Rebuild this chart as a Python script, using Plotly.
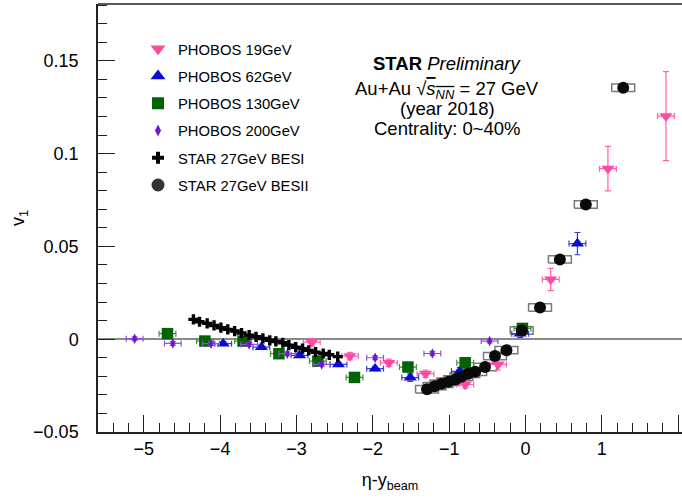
import plotly.graph_objects as go

# PHOBOS v1 vs eta - y_beam, Au+Au
pho19_x = [-2.80, -2.30, -1.79, -1.31, -0.79, -0.36, 0.33, 1.08, 1.84]
pho19_y = [-0.0016, -0.0091, -0.0127, -0.0186, -0.0244, -0.0136, 0.0322, 0.0919, 0.1202]
pho19_ey = [0.002, 0.002, 0.002, 0.002, 0.002, 0.003, 0.006, 0.012, 0.024]

pho62_x = [-3.96, -3.46, -2.96, -2.45, -1.97, -1.51, -0.86, -0.07, 0.68]
pho62_y = [-0.0024, -0.0043, -0.0087, -0.0136, -0.0159, -0.0207, -0.0173, 0.0030, 0.0515]
pho62_ey = [0.001, 0.001, 0.001, 0.001, 0.001, 0.002, 0.002, 0.002, 0.006]

pho130_x = [-4.69, -4.20, -3.70, -3.23, -2.72, -2.24, -1.54, -0.79, -0.04]
pho130_y = [0.0030, -0.0010, -0.0010, -0.0078, -0.0118, -0.0206, -0.0150, -0.0127, 0.0058]
pho130_ey = [0.001, 0.001, 0.001, 0.001, 0.001, 0.001, 0.001, 0.001, 0.001]

pho200_x = [-5.12, -4.62, -4.12, -3.62, -3.12, -2.67, -1.97, -1.22, -0.47]
pho200_y = [0.0003, -0.0023, -0.0024, -0.0028, -0.0078, -0.0136, -0.0100, -0.0077, -0.0010]
pho200_ey = [0.001, 0.001, 0.001, 0.001, 0.001, 0.001, 0.001, 0.001, 0.001]

pho_ex = 0.11

# STAR 27 GeV, BES-I
besi_x = [-4.35, -4.27, -4.17, -4.08, -3.99, -3.90, -3.81, -3.72, -3.62, -3.53, -3.44,
          -3.35, -3.27, -3.18, -3.10, -3.01, -2.92, -2.84, -2.75, -2.65, -2.57, -2.46]
besi_y = [0.0107, 0.0094, 0.0085, 0.0074, 0.0062, 0.0053, 0.0044, 0.0033, 0.0022, 0.0013, 0.0004,
          -0.0006, -0.0012, -0.0019, -0.0032, -0.0043, -0.0051, -0.0060, -0.0070, -0.0077, -0.0084, -0.0094]

# STAR 27 GeV, BES-II (year 2018)
besii_x = [-1.29, -1.19, -1.10, -1.01, -0.92, -0.84, -0.75, -0.66, -0.53, -0.40, -0.25,
           -0.05, 0.19, 0.45, 0.79, 1.28]
besii_y = [-0.0270, -0.0253, -0.0240, -0.0229, -0.0217, -0.0202, -0.0186, -0.0175, -0.0150,
           -0.0091, -0.0059, 0.0047, 0.0171, 0.0430, 0.0726, 0.1355]
besii_sysx = 0.15
besii_sysy = 0.002

FONT = "Liberation Sans, Arial, Helvetica, sans-serif"

fig = go.Figure()

# systematic boxes for BES-II points
bx, by = [], []
for x, y in zip(besii_x, besii_y):
    x0, x1 = x - besii_sysx, x + besii_sysx
    y0, y1 = y - besii_sysy, y + besii_sysy
    bx += [x0, x1, x1, x0, x0, None]
    by += [y0, y0, y1, y1, y0, None]
fig.add_trace(go.Scatter(x=bx, y=by, mode="lines", line=dict(color="#7a7a7a", width=1.5),
                         showlegend=False, hoverinfo="skip"))


def phobos(xs, ys, eys, symbol, size, color, ecolor):
    return go.Scatter(
        x=xs, y=ys, mode="markers", showlegend=False,
        marker=dict(symbol=symbol, size=size, color=color, line=dict(width=0)),
        error_x=dict(type="constant", value=pho_ex, color=ecolor, thickness=1.2, width=3),
        error_y=dict(type="data", array=eys, color=ecolor, thickness=1.2, width=3),
    )


series = [
    # name, xs, ys, eys, symbol, size, legend size, colour, error colour
    ("PHOBOS 19GeV", pho19_x, pho19_y, pho19_ey, "triangle-down", 11.5, 13, "#ff4aa5", "#ff5fb0"),
    ("PHOBOS 62GeV", pho62_x, pho62_y, pho62_ey, "triangle-up", 11.5, 13, "#0b0bd6", "#3a3ae0"),
    ("PHOBOS 130GeV", pho130_x, pho130_y, pho130_ey, "square", 11.5, 12, "#006400", "#3f8f3f"),
    ("PHOBOS 200GeV", pho200_x, pho200_y, pho200_ey, "diamond-tall", 7.5, 8.5, "#7316d0", "#9450e0"),
]
for name, xs, ys, eys, sym, sz, lsz, col, ecol in series:
    fig.add_trace(phobos(xs, ys, eys, sym, sz, col, ecol))

fig.add_trace(go.Scatter(x=besi_x, y=besi_y, mode="markers", showlegend=False,
                         marker=dict(symbol="cross", size=8.5, color="black", line=dict(width=0))))
fig.add_trace(go.Scatter(x=besii_x, y=besii_y, mode="markers", showlegend=False,
                         marker=dict(symbol="circle", size=12, color="#0a0a0a", line=dict(width=0))))

# legend entries
legend_items = [(s[0], s[4], s[6], s[7]) for s in series] + [
    ("STAR 27GeV BESI", "cross", 10, "black"),
    ("STAR 27GeV BESII", "circle", 13, "#333333"),
]
for i, (name, sym, lsz, col) in enumerate(legend_items):
    fig.add_trace(go.Scatter(x=[None], y=[None], mode="markers", name=name,
                             legendgroup="g%d" % i,
                             marker=dict(symbol=sym, size=lsz, color=col, line=dict(width=0))))

axis_common = dict(
    showline=True, linecolor="#222", linewidth=1.5, mirror=False,
    ticks="inside", tickcolor="#222", tickwidth=1.2, ticklen=17,
    showgrid=False, tickfont=dict(family=FONT, size=18, color="black"),
)

fig.update_xaxes(
    range=[-5.6, 2.05], dtick=1, tick0=0, **axis_common,
    minor=dict(ticks="inside", dtick=0.2, ticklen=9, tickcolor="#222", tickwidth=1.2),
    zeroline=False, ticklabelstandoff=0,
    title=dict(text="η-y<sub>beam</sub>", font=dict(family=FONT, size=18, color="black"), standoff=15),
)
fig.update_yaxes(
    range=[-0.05, 0.1806], dtick=0.05, tick0=0, **axis_common,
    minor=dict(ticks="inside", dtick=0.01, ticklen=9, tickcolor="#222", tickwidth=1.2),
    zeroline=True, zerolinecolor="#8a8a8a", zerolinewidth=2, ticklabelstandoff=14,
    title=dict(text="v<sub>1</sub>", font=dict(family=FONT, size=18, color="black"), standoff=4),
)

# top frame line
fig.add_shape(type="line", xref="paper", yref="paper", x0=0, x1=1, y0=1, y1=1,
              line=dict(color="#222", width=1.5))

ax_c = 0.598
txt_font = dict(family=FONT, size=18.5, color="black")
lines = [
    ("<b>STAR</b> <i>Preliminary</i>", 0.862),
    ("Au+Au √<span style='text-decoration:overline'><i>s<sub>NN</sub></i></span> = 27 GeV", 0.800),
    ("(year 2018)", 0.757),
    ("Centrality: 0~40%", 0.709),
]
for t, yy in lines:
    fig.add_annotation(text=t, x=ax_c, y=yy, xref="paper", yref="paper",
                       xanchor="center", yanchor="middle", showarrow=False, font=txt_font)

fig.update_layout(
    width=682, height=499,
    margin=dict(l=98, r=0, t=4, b=67),
    paper_bgcolor="white", plot_bgcolor="white",
    showlegend=True,
    legend=dict(x=0.0685, y=0.933, xanchor="left", yanchor="top",
                font=dict(family=FONT, size=14.8, color="black"),
                bgcolor="rgba(0,0,0,0)", tracegroupgap=5, itemsizing="trace"),
)

fig.write_html("out.html")
